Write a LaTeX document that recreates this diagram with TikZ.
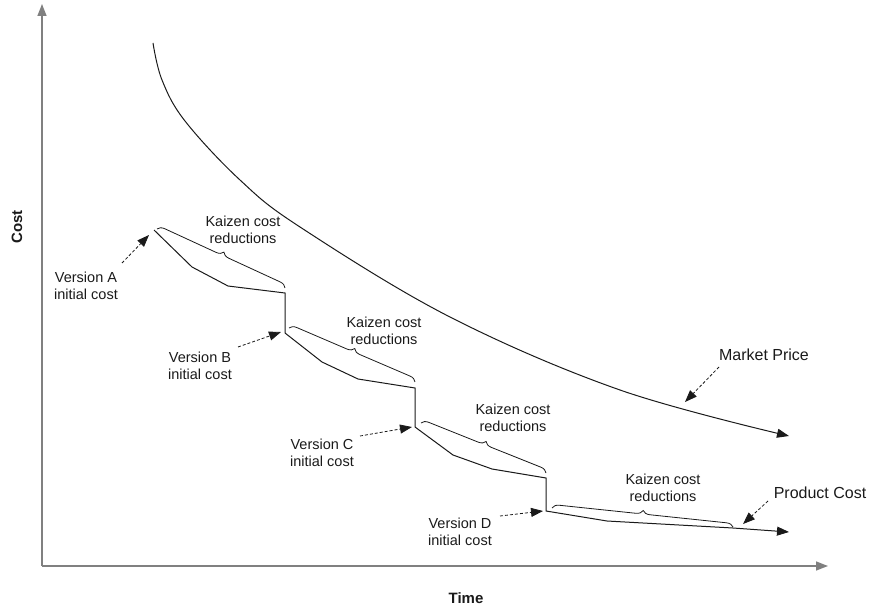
\documentclass[tikz,border=0pt]{standalone}
\usepackage{fontspec}
\setmainfont{Liberation Sans}
\usetikzlibrary{arrows.meta,decorations.pathreplacing}
\definecolor{axisgray}{HTML}{808080}
\definecolor{ink}{HTML}{1A1A1A}
\begin{document}
\begin{tikzpicture}[x=1pt,y=-1pt,
  axisline/.style={draw=axisgray,line width=1.4pt,-{Triangle[length=12pt,width=9pt]}},
  curveline/.style={draw=ink,line width=1pt},
  curvearrow/.style={curveline,-{Triangle[length=12pt,width=9pt]}},
  pointer/.style={draw=ink,line width=0.8pt,dash pattern=on 3pt off 2pt,
    -{Triangle[length=12pt,width=9pt]}},
  kbrace/.style={draw=ink,line width=0.8pt,decorate,
    decoration={brace,amplitude=7pt}},
  lbl/.style={font=\fontsize{14.5}{17}\selectfont,text=ink,align=center,inner sep=0pt},
  biglbl/.style={font=\fontsize{16}{19}\selectfont,text=ink,inner sep=0pt},
  axlbl/.style={font=\fontsize{15}{18}\selectfont\bfseries,text=ink,inner sep=0pt}]
\useasboundingbox (0,0) rectangle (873,607);

% axes
\coordinate (origin) at (42,566);
\coordinate (ytop) at (42,4);
\coordinate (xend) at (828,566);
\draw[axisline] (origin) -- (ytop);
\draw[axisline] (origin) -- (xend);
\node[axlbl,rotate=90] (costlbl) at (17,227) {Cost};
\node[axlbl] (timelbl) at (466,598) {Time};

% market price curve
\coordinate (mpstart) at (153,43);
\coordinate (mpend) at (789,436);
\draw[curvearrow] plot[smooth,tension=0.6] coordinates {
  (mpstart) (162,80) (185,121) (240,180) (300,227) (450,317)
  (620,390) (mpend)};

% product cost steps
\coordinate (a0) at (154,230);
\coordinate (a1) at (192,267);
\coordinate (a2) at (228,286);
\coordinate (a3) at (285,293);
\coordinate (b0) at (285,333);
\coordinate (b1) at (322,362);
\coordinate (b2) at (358,379);
\coordinate (b3) at (415,388);
\coordinate (c0) at (415,427);
\coordinate (c1) at (453,455);
\coordinate (c2) at (492,469);
\coordinate (c3) at (546,478);
\coordinate (d0) at (546,511);
\coordinate (d1) at (607,521);
\coordinate (d2) at (733,528);
\coordinate (d3) at (789,532);
\draw[curveline] (a0) -- (a1) -- (a2) -- (a3) -- (b0) -- (b1) -- (b2) -- (b3)
  -- (c0) -- (c1) -- (c2) -- (c3) -- (d0) -- (d1) -- (d2);
\draw[curvearrow] (d2) -- (d3);

% kaizen braces
\coordinate (ka) at (157,229);
\coordinate (kb) at (285,288);
\coordinate (kc) at (289,328);
\coordinate (kd) at (415,382);
\coordinate (ke) at (421,423);
\coordinate (kf) at (546,473);
\coordinate (kg) at (552,508);
\coordinate (kh) at (733,527);
\draw[kbrace] (ka) -- (kb);
\draw[kbrace] (kc) -- (kd);
\draw[kbrace] (ke) -- (kf);
\draw[kbrace] (kg) -- (kh);
\node[lbl] (kza) at (243,230) {Kaizen cost\\reductions};
\node[lbl] (kzb) at (384,331) {Kaizen cost\\reductions};
\node[lbl] (kzc) at (513,418) {Kaizen cost\\reductions};
\node[lbl] (kzd) at (663,488) {Kaizen cost\\reductions};

% version labels
\node[lbl] (va) at (86,286) {Version A\\initial cost};
\node[lbl] (vb) at (200,366) {Version B\\initial cost};
\node[lbl] (vc) at (322,453) {Version C\\initial cost};
\node[lbl] (vd) at (460,532) {Version D\\initial cost};
\coordinate (vaf) at (122,263);
\coordinate (vat) at (149,235);
\coordinate (vbf) at (238,347);
\coordinate (vbt) at (281,332);
\coordinate (vcf) at (360,436);
\coordinate (vct) at (412,427);
\coordinate (vdf) at (500,516);
\coordinate (vdt) at (543,511);
\draw[pointer] (vaf) -- (vat);
\draw[pointer] (vbf) -- (vbt);
\draw[pointer] (vcf) -- (vct);
\draw[pointer] (vdf) -- (vdt);

% curve labels
\node[biglbl] (mplbl) at (764,355) {Market Price};
\node[biglbl] (pclbl) at (820,493) {Product Cost};
\coordinate (mpf) at (719,367);
\coordinate (mpt) at (685,402);
\coordinate (pcf) at (768,501);
\coordinate (pct) at (743,524);
\draw[pointer] (mpf) -- (mpt);
\draw[pointer] (pcf) -- (pct);
\end{tikzpicture}
\end{document}
